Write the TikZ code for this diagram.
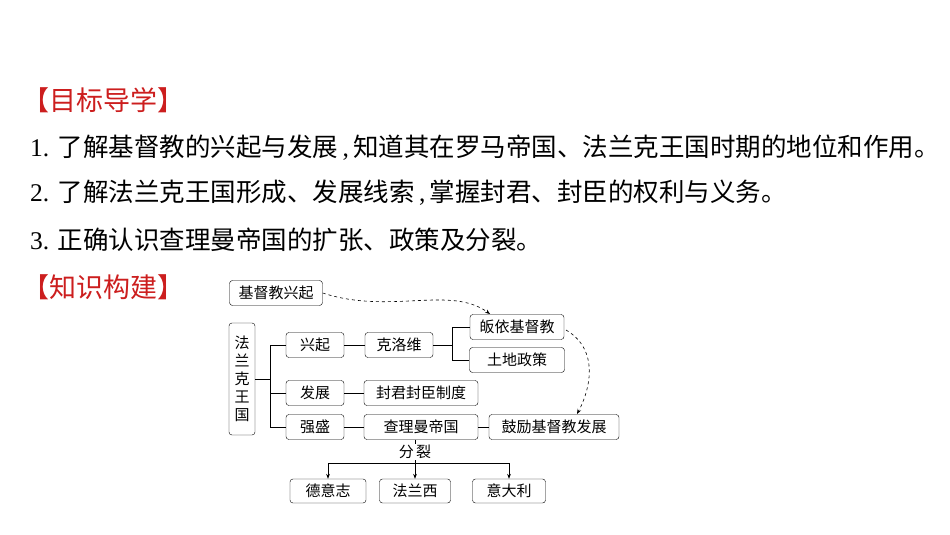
\documentclass[tikz,border=0pt]{standalone}
\usepackage{fontspec}
\setmainfont{Liberation Serif}
\newfontfamily\cjk{Noto Sans CJK SC}
\usetikzlibrary{arrows.meta}
\definecolor{tred}{RGB}{204,30,30}
\begin{document}
\begin{tikzpicture}[x=1pt,y=-1pt,
 bx/.style={draw,rounded corners=3pt,minimum height=25pt,inner sep=2pt,font=\cjk\fontsize{15}{15}\selectfont},
 ln/.style={line width=0.6pt},
 dsh/.style={dashed,line width=0.6pt,-{Stealth[length=5pt]}}]
\useasboundingbox (0,0) rectangle (950,535);
\node[anchor=west,inner sep=0pt,text=tred,font=\cjk\fontsize{27}{27}\selectfont] (t1) at (22,100) {【目标导学】};
\node[anchor=west,inner sep=0pt,font=\fontsize{25.5}{26}\selectfont] (l1) at (30,148) {1. {\cjk 了解基督教的兴起与发展}\,,\,{\cjk 知道其在罗马帝国、法兰克王国时期的地位和作用。}};
\node[anchor=west,inner sep=0pt,font=\fontsize{25.5}{26}\selectfont] (l2) at (30,193) {2. {\cjk 了解法兰克王国形成、发展线索}\,,\,{\cjk 掌握封君、封臣的权利与义务。}};
\node[anchor=west,inner sep=0pt,font=\fontsize{25.5}{26}\selectfont] (l3) at (30,240) {3. {\cjk 正确认识查理曼帝国的扩张、政策及分裂。}};
\node[anchor=west,inner sep=0pt,text=tred,font=\cjk\fontsize{27}{27}\selectfont] (t2) at (22,287) {【知识构建】};

\node[bx,minimum width=93pt] (jd) at (276,293) {基督教兴起};
\node[draw,rounded corners=3pt,minimum width=26pt,minimum height=112pt,inner sep=1pt,font=\cjk\fontsize{15}{18}\selectfont,align=center] (flk) at (242,379) {法\\兰\\克\\王\\国};
\node[bx,minimum width=58pt] (xq) at (315,345) {兴起};
\node[bx,minimum width=68pt] (klw) at (399,345) {克洛维};
\node[bx,minimum width=94pt] (gy) at (517,327) {皈依基督教};
\node[bx,minimum width=95pt] (td) at (517,360) {土地政策};
\node[bx,minimum width=58pt] (fz) at (315,393) {发展};
\node[bx,minimum width=114pt] (fj) at (421,393) {封君封臣制度};
\node[bx,minimum width=58pt] (qs) at (315,427) {强盛};
\node[bx,minimum width=114pt] (clm) at (421,427) {查理曼帝国};
\node[bx,minimum width=130pt] (gl) at (554,427) {鼓励基督教发展};
\node[bx,minimum width=76pt,minimum height=24pt] (dyz) at (328,491) {德意志};
\node[bx,minimum width=71pt,minimum height=24pt] (flx) at (415,491) {法兰西};
\node[bx,minimum width=73pt,minimum height=24pt] (ydl) at (509,491) {意大利};
\node[font=\cjk\fontsize{15}{15}\selectfont,fill=white,inner sep=1pt] (fl) at (415,452) {分\,裂};

\draw[ln] (flk.east) -- (270,379);
\draw[ln] (xq.west) -| (270,427) -- (qs.west);
\draw[ln] (270,393) -- (fz.west);
\draw[ln] (xq) -- (klw);
\draw[ln] (klw.east) -- (452,345);
\draw[ln] (gy.west) -| (452,360) -- (td.west);
\draw[ln] (fz) -- (fj);
\draw[ln] (qs) -- (clm);
\draw[ln] (clm) -- (gl);
\draw[ln] (clm.south -| fl.north) -- (fl.north);
\draw[ln,-{Stealth[length=5pt]}] (fl.south) -- (flx.north);
\draw[ln,-{Stealth[length=5pt]}] (415,463) -| (dyz.north);
\draw[ln,-{Stealth[length=5pt]}] (415,463) -| (ydl.north);
\draw[dsh] (jd.east) .. controls (390,315) and (450,285) .. (490,314);
\draw[dsh] (566,330) .. controls (600,350) and (590,390) .. (577,414);
\end{tikzpicture}
\end{document}
